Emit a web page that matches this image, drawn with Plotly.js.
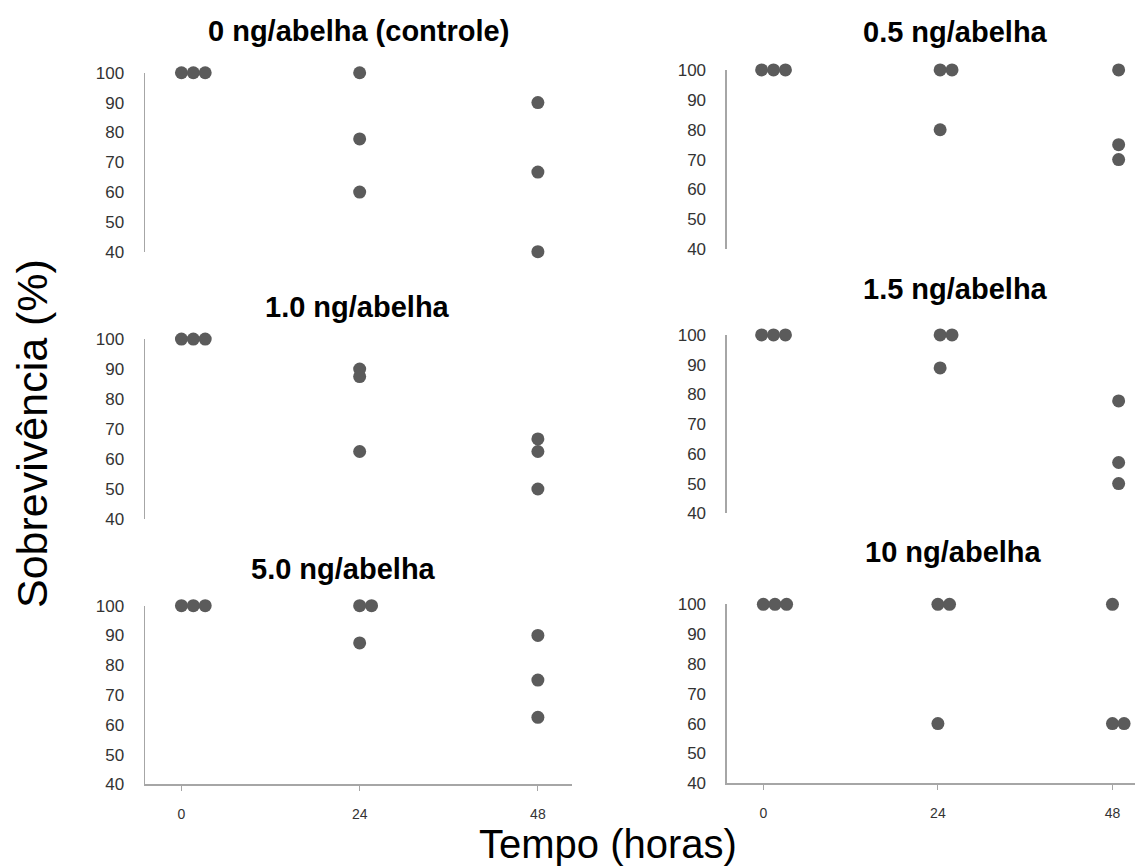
<!DOCTYPE html>
<html>
<head>
<meta charset="utf-8">
<script src="https://cdn.plot.ly/plotly-3.0.1.min.js"></script>
<style>html,body{margin:0;padding:0;background:#fff;}#chart{width:1135px;height:868px;}</style>
</head>
<body>
<div id="chart"></div>
<script>
// ---- data ----
const times = [0, 24, 48];
const timeTickLabels = ["0", "24", "48"];
const yTickValues = [40, 50, 60, 70, 80, 90, 100];
const panelTitles = ["0 ng/abelha (controle)", "0.5 ng/abelha", "1.0 ng/abelha", "1.5 ng/abelha", "5.0 ng/abelha", "10 ng/abelha"];
// survival (%) per replicate, grouped by time [0h, 24h, 48h]
const dose0  = [[100, 100, 100], [100, 77.8, 60],   [90, 66.7, 40]];
const dose05 = [[100, 100, 100], [100, 100, 80],    [100, 75, 70]];
const dose10 = [[100, 100, 100], [90, 87.5, 62.5],  [66.7, 62.5, 50]];
const dose15 = [[100, 100, 100], [100, 100, 88.9],  [77.8, 57.1, 50]];
const dose50 = [[100, 100, 100], [100, 100, 87.5],  [90, 75, 62.5]];
const dose100= [[100, 100, 100], [100, 100, 60],    [100, 60, 60]];
const xTitle = "Tempo (horas)";
const yTitle = "Sobrevivência (%)";

// ---- layout / style ----
const panels = [dose0, dose05, dose10, dose15, dose50, dose100];
const dodge = 1.6; // horizontal offset (hours) for coincident points
const FONT = "Liberation Sans, Arial, sans-serif";
const dotColor = "#5b5b5b";
const lineColor = "#a6a6a6";

const xDomains = [[0.1278, 0.5040], [0.6405, 1.0]];
const yDomains = [
  [0.7100, 0.9162], [0.7128, 0.9194],
  [0.4021, 0.6094], [0.4086, 0.6141],
  [0.0964, 0.3022], [0.0976, 0.3038]
];
const xRanges = [[-4.9, 52.6], [-4.66, 50.2], [-4.9, 52.6], [-4.66, 50.2], [-4.9, 52.6], [-5.0, 51.1]];
const titlePos = [[358, 31], [955, 32], [357, 307], [955, 289], [343, 569], [953, 552]];

const traces = [];
const layout = {
  width: 1135, height: 868,
  margin: {l: 0, r: 0, t: 0, b: 0},
  paper_bgcolor: "#fff", plot_bgcolor: "rgba(0,0,0,0)",
  showlegend: false,
  font: {family: FONT, color: "#333"},
  annotations: []
};

panels.forEach((p, i) => {
  const xs = [], ys = [];
  p.forEach((vals, ti) => {
    const seen = {};
    vals.forEach(v => {
      const k = seen[v] || 0;
      seen[v] = k + 1;
      xs.push(times[ti] + k * dodge);
      ys.push(v);
    });
  });
  const n = i + 1;
  const sfx = n === 1 ? "" : String(n);
  traces.push({
    type: "scatter", mode: "markers", x: xs, y: ys,
    xaxis: "x" + sfx, yaxis: "y" + sfx,
    marker: {size: 13, color: dotColor},
    cliponaxis: false, hoverinfo: "x+y"
  });
  const bottom = i >= 4;
  const col = i % 2;
  layout["xaxis" + sfx] = {
    domain: xDomains[col], range: xRanges[i], anchor: "y" + sfx,
    showgrid: false, zeroline: false,
    showline: bottom, linecolor: lineColor, linewidth: 1.5,
    ticks: bottom ? "outside" : "", ticklen: 5, tickwidth: 1, tickcolor: lineColor,
    tickvals: times, ticktext: timeTickLabels,
    showticklabels: bottom, ticklabelstandoff: 11,
    tickfont: {size: 14, color: "#333", family: FONT}
  };
  layout["yaxis" + sfx] = {
    domain: yDomains[i], range: [40, 100], anchor: "x" + sfx,
    showgrid: false, zeroline: false,
    showline: true, linecolor: lineColor, linewidth: 1.5,
    ticks: "", tickvals: yTickValues,
    ticklabelstandoff: 16,
    tickfont: {size: 17, color: "#333", family: FONT}
  };
  layout.annotations.push({
    text: "<b>" + panelTitles[i] + "</b>", xref: "paper", yref: "paper",
    x: titlePos[i][0] / 1135, y: 1 - titlePos[i][1] / 868,
    xanchor: "center", yanchor: "middle", showarrow: false,
    font: {size: 29, color: "#000", family: FONT}
  });
});

layout.annotations.push({
  text: xTitle, xref: "paper", yref: "paper", x: 608 / 1135, y: 1 - 844 / 868,
  xanchor: "center", yanchor: "middle", showarrow: false,
  font: {size: 40, color: "#000", family: FONT}
});
layout.annotations.push({
  text: yTitle, xref: "paper", yref: "paper", x: 32 / 1135, y: 1 - 434 / 868,
  xanchor: "center", yanchor: "middle", showarrow: false, textangle: -90,
  font: {size: 43, color: "#000", family: FONT}
});

Plotly.newPlot("chart", traces, layout, {displayModeBar: false, staticPlot: true});
</script>
</body>
</html>
